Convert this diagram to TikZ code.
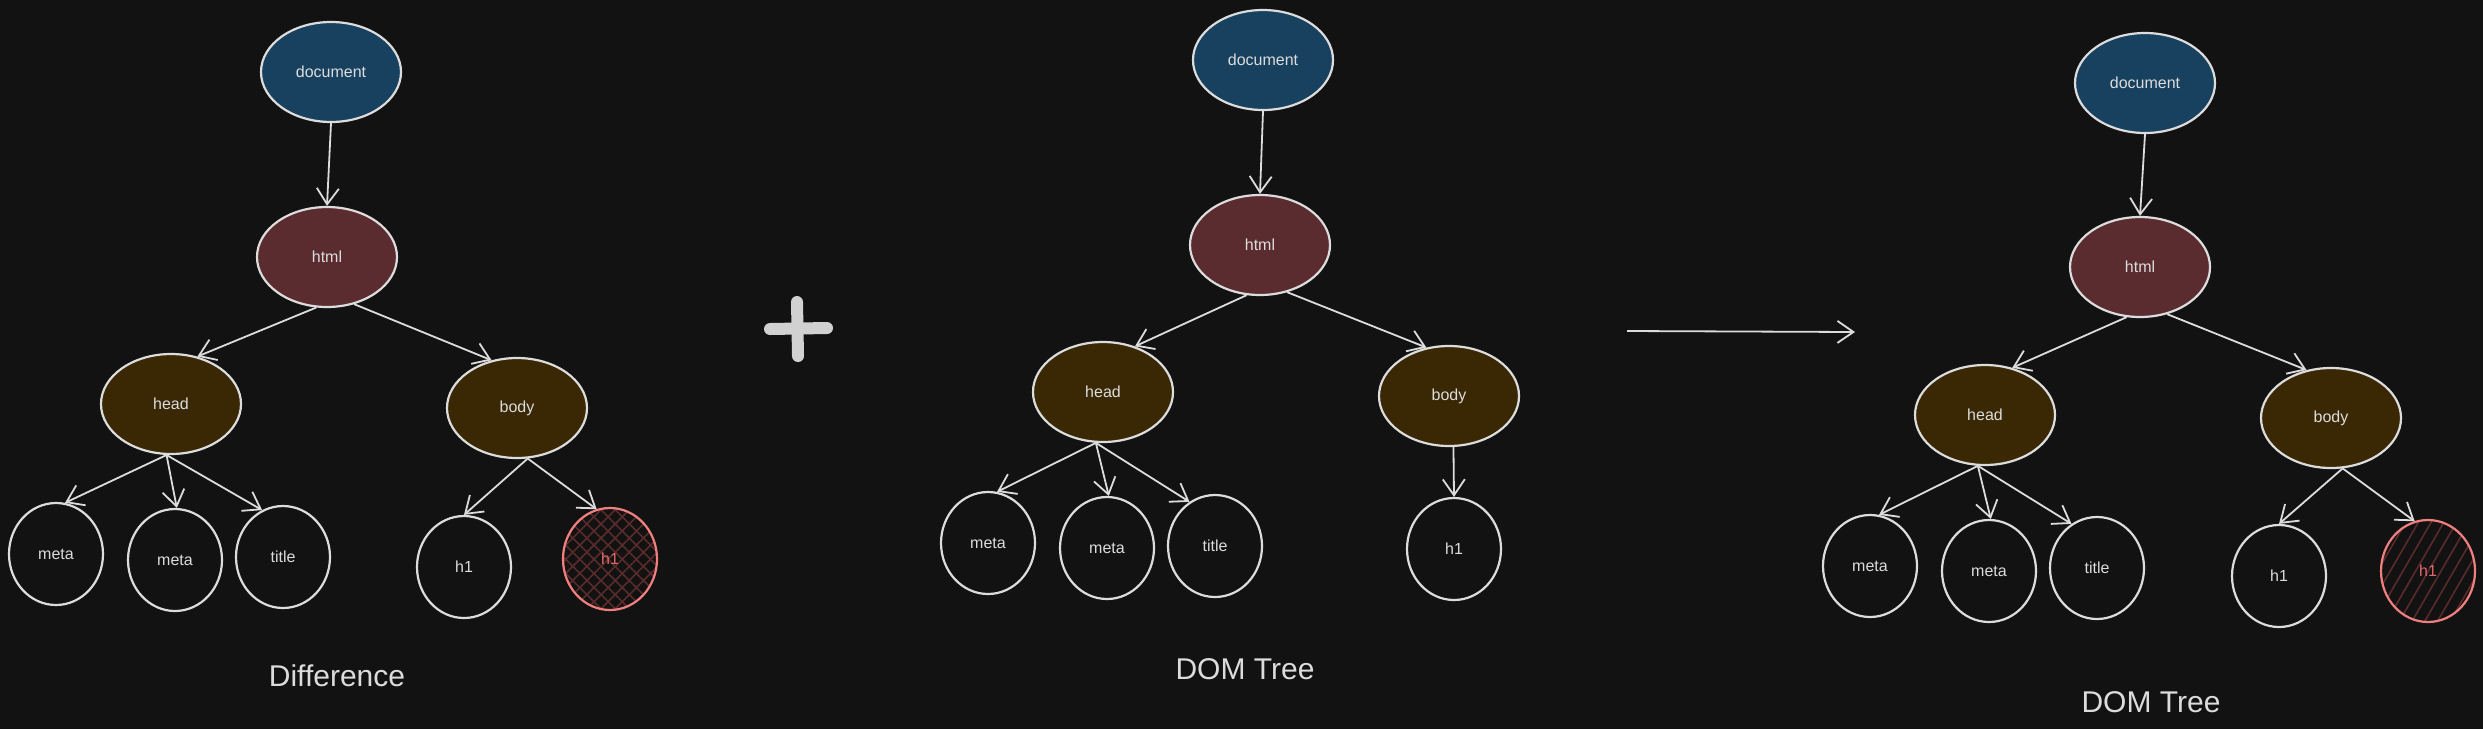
\documentclass[tikz,border=0pt]{standalone}
\usepackage{fontspec}
\setmainfont{Liberation Sans}
\usetikzlibrary{shapes.geometric,arrows.meta,patterns.meta}
\definecolor{bg}{HTML}{121212}
\definecolor{ink}{HTML}{DCDCDC}
\definecolor{docfill}{HTML}{17415F}
\definecolor{htmlfill}{HTML}{5B2C2F}
\definecolor{secfill}{HTML}{392803}
\definecolor{redline}{HTML}{F08080}
\definecolor{redtext}{HTML}{E06A6A}
\definecolor{hatchred}{HTML}{5A2B2B}
\tikzset{
  nd/.style={ellipse, draw=ink, line width=2.2pt, inner sep=0pt, text=ink,
    font=\fontsize{16}{19}\selectfont},
  big/.style={nd, minimum width=140pt, minimum height=100pt},
  leaf/.style={nd, minimum width=94pt, minimum height=102pt},
  docn/.style={big, fill=docfill},
  htmln/.style={big, fill=htmlfill},
  secn/.style={big, fill=secfill},
  crossred/.style={leaf, draw=redline, text=redtext,
    pattern={Hatch[angle=45,distance=10pt,line width=1.6pt]}, pattern color=hatchred},
  linered/.style={leaf, draw=redline, text=redtext,
    pattern={Lines[angle=60,distance=11pt,line width=1.6pt]}, pattern color=hatchred},
  arr/.style={draw=ink, line width=1.8pt, -{Straight Barb[length=16pt,width=22pt,line width=1.8pt]}},
  caption/.style={text=ink, font=\fontsize{30}{36}\selectfont},
}
\begin{document}
\begin{tikzpicture}[x=1pt,y=-1pt]
\useasboundingbox (0,0) rectangle (2483,729);
\fill[bg] (0,0) rectangle (2483,729);

% ---------- left tree ----------
\node[docn]  (Ldoc)  at (331,72)  {document};
\node[htmln] (Lhtml) at (327,257) {html};
\node[secn]  (Lhead) at (171,404) {head};
\node[secn]  (Lbody) at (517,408) {body};
\node[leaf]  (Lm1)   at (56,554)  {meta};
\node[leaf]  (Lm2)   at (175,560) {meta};
\node[leaf]  (Ltit)  at (283,557) {title};
\node[leaf]  (Lh1)   at (464,567) {h1};
\node[crossred] (Lh1r) at (610,559) {h1};
\node[caption] (Lcap) at (337,676) {Difference};
\draw[arr] (Ldoc.south) -- (Lhtml.north);
\draw[arr] (Lhtml.258) -- (Lhead.61);
\draw[arr] (Lhtml.300) -- (Lbody.118);
\draw[arr] (Lhead.265) -- (Lm1.80);
\draw[arr] (Lhead.265) -- (Lm2.88);
\draw[arr] (Lhead.265) -- (Ltit.114);
\draw[arr] (Lbody.282) -- (Lh1.90);
\draw[arr] (Lbody.282) -- (Lh1r.105);

% ---------- plus ----------
\draw[ink!95!black, line width=12pt, line cap=round] (770,329) -- (827,328);
\draw[ink!95!black, line width=12pt, line cap=round] (797,302) -- (798,356);

% ---------- middle tree ----------
\node[docn]  (Mdoc)  at (1263,60)  {document};
\node[htmln] (Mhtml) at (1260,245) {html};
\node[secn]  (Mhead) at (1103,392) {head};
\node[secn]  (Mbody) at (1449,396) {body};
\node[leaf]  (Mm1)   at (988,543)  {meta};
\node[leaf]  (Mm2)   at (1107,548) {meta};
\node[leaf]  (Mtit)  at (1215,546) {title};
\node[leaf]  (Mh1)   at (1454,549) {h1};
\node[caption] (Mcap) at (1245,669) {DOM Tree};
\draw[arr] (Mdoc.south) -- (Mhtml.north);
\draw[arr] (Mhtml.255) -- (Mhead.55);
\draw[arr] (Mhtml.300) -- (Mbody.115);
\draw[arr] (Mhead.262) -- (Mm1.80);
\draw[arr] (Mhead.262) -- (Mm2.88);
\draw[arr] (Mhead.262) -- (Mtit.120);
\draw[arr] (Mbody.275) -- (Mh1.north);

% ---------- big arrow ----------
\coordinate (A1) at (1627,331);
\coordinate (A2) at (1855,332);
\draw[arr] (A1) -- (A2);

% ---------- right tree ----------
\node[docn]  (Rdoc)  at (2145,83)  {document};
\node[htmln] (Rhtml) at (2140,267) {html};
\node[secn]  (Rhead) at (1985,415) {head};
\node[secn]  (Rbody) at (2331,418) {body};
\node[leaf]  (Rm1)   at (1870,566) {meta};
\node[leaf]  (Rm2)   at (1989,571) {meta};
\node[leaf]  (Rtit)  at (2097,568) {title};
\node[leaf]  (Rh1)   at (2279,576) {h1};
\node[linered] (Rh1r) at (2428,571) {h1};
\node[caption] (Rcap) at (2151,702) {DOM Tree};
\draw[arr] (Rdoc.south) -- (Rhtml.north);
\draw[arr] (Rhtml.255) -- (Rhead.60);
\draw[arr] (Rhtml.300) -- (Rbody.117);
\draw[arr] (Rhead.262) -- (Rm1.80);
\draw[arr] (Rhead.262) -- (Rm2.88);
\draw[arr] (Rhead.262) -- (Rtit.120);
\draw[arr] (Rbody.283) -- (Rh1.90);
\draw[arr] (Rbody.283) -- (Rh1r.105);
\end{tikzpicture}
\end{document}
